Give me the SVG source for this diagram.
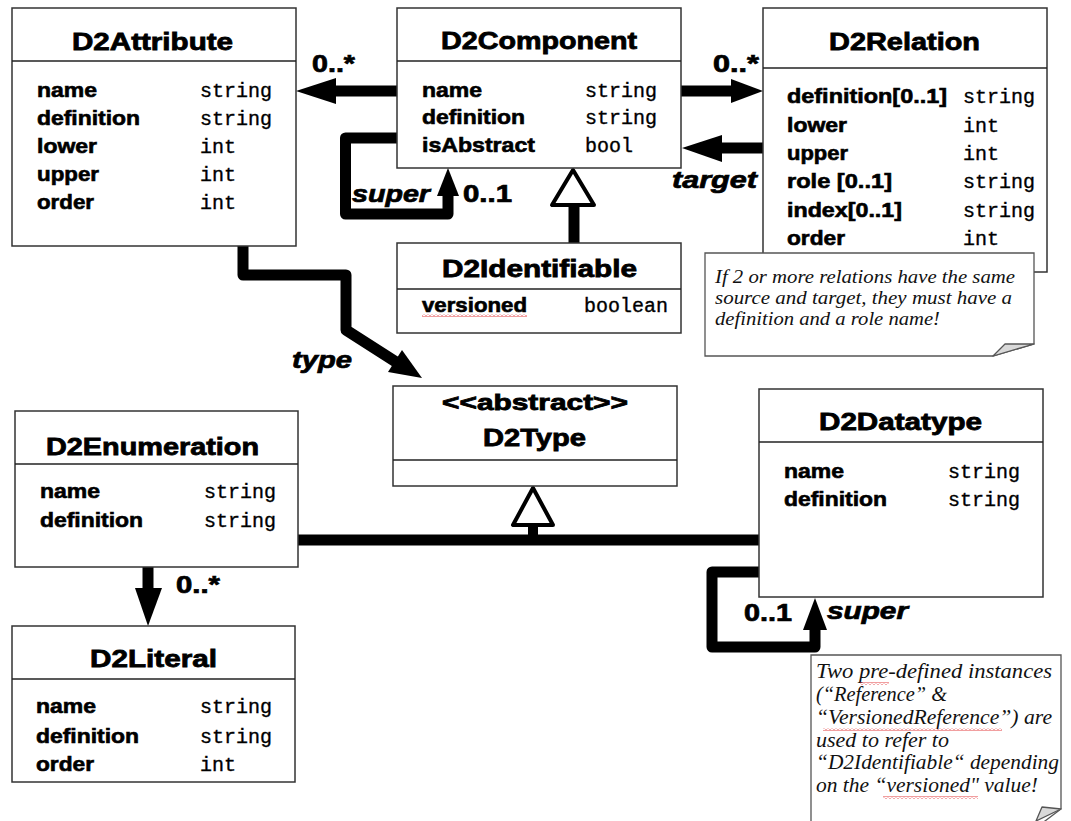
<svg xmlns="http://www.w3.org/2000/svg" width="1071" height="821" viewBox="0 0 1071 821">
<style>
.box{fill:#fff;stroke:#333;stroke-width:1.5}
.div{stroke:#222;stroke-width:1.3}
.title{font-family:"Liberation Sans",Arial,sans-serif;font-weight:bold;font-size:24px;text-anchor:middle;fill:#000;stroke:#000;stroke-width:0.8}
.attr{font-family:"Liberation Sans",Arial,sans-serif;font-weight:bold;font-size:20px;fill:#000;stroke:#000;stroke-width:0.6}
.type{font-family:"Liberation Mono","Courier New",monospace;font-size:20px;fill:#000;stroke:#000;stroke-width:0.35}
.lbl{font-family:"Liberation Sans",Arial,sans-serif;font-weight:bold;font-style:italic;font-size:23px;fill:#000;stroke:#000;stroke-width:0.7}
.mult{font-family:"Liberation Sans",Arial,sans-serif;font-weight:bold;font-size:23px;fill:#000;stroke:#000;stroke-width:0.7}
.note{fill:#fff;stroke:#555;stroke-width:1.3}
.fold{fill:#d9d9d9;stroke:#555;stroke-width:1.3;stroke-linejoin:round}
.nt1{font-family:"Liberation Serif","Times New Roman",serif;font-style:italic;font-size:19px;fill:#111}
.nt2{font-family:"Liberation Serif","Times New Roman",serif;font-style:italic;font-size:21px;fill:#111}
.conn{fill:none;stroke:#000;stroke-width:11;stroke-linejoin:round}
.head{fill:#000}
.gen{fill:#fff;stroke:#000;stroke-width:4;stroke-linejoin:round}
.wavy{fill:url(#wavy)}
</style>
<defs>
<pattern id="wavy" width="4" height="3" patternUnits="userSpaceOnUse">
<path d="M0,2.5 L2,0.5 L4,2.5" fill="none" stroke="#e0282a" stroke-width="0.9"/>
</pattern>
</defs>

<g id="connectors">
<!-- D2Component -> D2Attribute -->
<line class="conn" x1="397" y1="91" x2="332" y2="91"/>
<polygon class="head" points="296,91 336,78 336,104"/>
<text class="mult" x="312" y="72" textLength="43" lengthAdjust="spacingAndGlyphs">0..*</text>
<!-- D2Component -> D2Relation -->
<line class="conn" x1="681" y1="91" x2="734" y2="91"/>
<polygon class="head" points="763,91 731,79 731,103"/>
<text class="mult" x="713" y="72" textLength="46" lengthAdjust="spacingAndGlyphs">0..*</text>
<!-- target -->
<line class="conn" x1="763" y1="148" x2="718" y2="148"/>
<polygon class="head" points="682,148 722,135 722,162"/>
<text class="lbl" x="672" y="188" textLength="85" lengthAdjust="spacingAndGlyphs">target</text>
<!-- super loop D2Component -->
<path class="conn" d="M397,138 H345.5 V214 H448 V192"/>
<polygon class="head" points="448,168 437,196 459,196"/>
<text class="lbl" x="352" y="202" textLength="78" lengthAdjust="spacingAndGlyphs">super</text>
<text class="mult" x="463" y="202" textLength="49" lengthAdjust="spacingAndGlyphs">0..1</text>
<!-- D2Identifiable generalization -->
<line class="conn" x1="574" y1="243" x2="574" y2="203"/>
<polygon class="gen" points="573,170 552,205 594,205"/>
<!-- type -->
<path class="conn" d="M243,246 V275 H346 V330 L396,362"/>
<polygon class="head" points="422,378 388,372 402,350"/>
<text class="lbl" x="292" y="368" textLength="60" lengthAdjust="spacingAndGlyphs">type</text>
<!-- generalization to D2Type -->
<line class="conn" x1="297" y1="540" x2="760" y2="540"/>
<line x1="533" y1="540" x2="533" y2="523" stroke="#000" stroke-width="10"/>
<polygon class="gen" points="533,488 513,525 553,525"/>
<!-- D2Enumeration -> D2Literal -->
<line class="conn" x1="148" y1="567" x2="148" y2="592"/>
<polygon class="head" points="148,626 135,588 162,588"/>
<text class="mult" x="176" y="593" textLength="44" lengthAdjust="spacingAndGlyphs">0..*</text>
<!-- super loop D2Datatype -->
<path class="conn" d="M759,572 H712 V647 H815 V626"/>
<polygon class="head" points="815,598 803,630 827,630"/>
<text class="mult" x="744" y="621" textLength="48" lengthAdjust="spacingAndGlyphs">0..1</text>
<text class="lbl" x="827" y="619" textLength="81" lengthAdjust="spacingAndGlyphs">super</text>
</g>

<g id="D2Attribute">
<rect class="box" x="12" y="8" width="284" height="238"/>
<line class="div" x1="12" y1="61" x2="296" y2="61"/>
<text class="title" x="152.5" y="50" textLength="161" lengthAdjust="spacingAndGlyphs">D2Attribute</text>
<text class="attr" x="37" y="97" textLength="60" lengthAdjust="spacingAndGlyphs">name</text>
<text class="attr" x="37" y="125" textLength="103" lengthAdjust="spacingAndGlyphs">definition</text>
<text class="attr" x="37" y="153" textLength="60" lengthAdjust="spacingAndGlyphs">lower</text>
<text class="attr" x="37" y="181" textLength="62" lengthAdjust="spacingAndGlyphs">upper</text>
<text class="attr" x="37" y="209" textLength="57" lengthAdjust="spacingAndGlyphs">order</text>
<text class="type" x="200" y="97">string</text>
<text class="type" x="200" y="125">string</text>
<text class="type" x="200" y="153">int</text>
<text class="type" x="200" y="181">int</text>
<text class="type" x="200" y="209">int</text>
</g>

<g id="D2Component">
<rect class="box" x="397" y="8" width="284" height="160"/>
<line class="div" x1="397" y1="61" x2="681" y2="61"/>
<text class="title" x="539" y="49" textLength="196" lengthAdjust="spacingAndGlyphs">D2Component</text>
<text class="attr" x="422" y="97" textLength="60" lengthAdjust="spacingAndGlyphs">name</text>
<text class="attr" x="422" y="124" textLength="103" lengthAdjust="spacingAndGlyphs">definition</text>
<text class="attr" x="422" y="152" textLength="113" lengthAdjust="spacingAndGlyphs">isAbstract</text>
<text class="type" x="585" y="97">string</text>
<text class="type" x="585" y="124">string</text>
<text class="type" x="585" y="152">bool</text>
</g>

<g id="D2Relation">
<rect class="box" x="763" y="8" width="284" height="264"/>
<line class="div" x1="763" y1="68" x2="1047" y2="68"/>
<text class="title" x="904.5" y="50" textLength="151" lengthAdjust="spacingAndGlyphs">D2Relation</text>
<text class="attr" x="787" y="103" textLength="160" lengthAdjust="spacingAndGlyphs">definition[0..1]</text>
<text class="attr" x="787" y="132" textLength="60" lengthAdjust="spacingAndGlyphs">lower</text>
<text class="attr" x="787" y="160" textLength="61" lengthAdjust="spacingAndGlyphs">upper</text>
<text class="attr" x="787" y="188" textLength="105" lengthAdjust="spacingAndGlyphs">role [0..1]</text>
<text class="attr" x="787" y="217" textLength="115" lengthAdjust="spacingAndGlyphs">index[0..1]</text>
<text class="attr" x="787" y="245" textLength="58" lengthAdjust="spacingAndGlyphs">order</text>
<text class="type" x="963" y="103">string</text>
<text class="type" x="963" y="132">int</text>
<text class="type" x="963" y="160">int</text>
<text class="type" x="963" y="188">string</text>
<text class="type" x="963" y="217">string</text>
<text class="type" x="963" y="245">int</text>
</g>

<g id="note-relations">
<path class="note" d="M705,253 H1034 V344 L993,356 H705 Z"/>
<polygon class="fold" points="993,356 1005,344 1034,344"/>
<text class="nt1" x="715" y="283" textLength="300" lengthAdjust="spacingAndGlyphs">If 2 or more relations have the same</text>
<text class="nt1" x="715" y="304" textLength="297" lengthAdjust="spacingAndGlyphs">source and target, they must have a</text>
<text class="nt1" x="715" y="325" textLength="225" lengthAdjust="spacingAndGlyphs">definition and a role name!</text>
</g>

<g id="D2Identifiable">
<rect class="box" x="397" y="243" width="284" height="90"/>
<line class="div" x1="397" y1="289" x2="681" y2="289"/>
<text class="title" x="539.5" y="277" textLength="195" lengthAdjust="spacingAndGlyphs">D2Identifiable</text>
<text class="attr" x="422" y="312" textLength="105" lengthAdjust="spacingAndGlyphs">versioned</text>
<rect class="wavy" x="422" y="314" width="105" height="3"/>
<text class="type" x="584" y="312">boolean</text>
</g>

<g id="D2Type">
<rect class="box" x="393" y="386" width="284" height="100"/>
<line class="div" x1="393" y1="460" x2="677" y2="460"/>
<text class="title" x="535" y="410" textLength="186" lengthAdjust="spacingAndGlyphs" style="font-size:22px">&lt;&lt;abstract&gt;&gt;</text>
<text class="title" x="534.5" y="446" textLength="103" lengthAdjust="spacingAndGlyphs">D2Type</text>
</g>

<g id="D2Enumeration">
<rect class="box" x="15" y="411" width="283" height="156"/>
<line class="div" x1="15" y1="464" x2="298" y2="464"/>
<text class="title" x="152.5" y="455" textLength="213" lengthAdjust="spacingAndGlyphs">D2Enumeration</text>
<text class="attr" x="40" y="498" textLength="60" lengthAdjust="spacingAndGlyphs">name</text>
<text class="attr" x="40" y="527" textLength="103" lengthAdjust="spacingAndGlyphs">definition</text>
<text class="type" x="204" y="498">string</text>
<text class="type" x="204" y="527">string</text>
</g>

<g id="D2Literal">
<rect class="box" x="12" y="626" width="283" height="156"/>
<line class="div" x1="12" y1="679" x2="295" y2="679"/>
<text class="title" x="153.5" y="667" textLength="127" lengthAdjust="spacingAndGlyphs">D2Literal</text>
<text class="attr" x="36" y="713" textLength="60" lengthAdjust="spacingAndGlyphs">name</text>
<text class="attr" x="36" y="743" textLength="103" lengthAdjust="spacingAndGlyphs">definition</text>
<text class="attr" x="36" y="771" textLength="58" lengthAdjust="spacingAndGlyphs">order</text>
<text class="type" x="200" y="713">string</text>
<text class="type" x="200" y="743">string</text>
<text class="type" x="200" y="771">int</text>
</g>

<g id="D2Datatype">
<rect class="box" x="759" y="389" width="284" height="208"/>
<line class="div" x1="759" y1="442" x2="1043" y2="442"/>
<text class="title" x="900.5" y="430" textLength="163" lengthAdjust="spacingAndGlyphs">D2Datatype</text>
<text class="attr" x="784" y="478" textLength="60" lengthAdjust="spacingAndGlyphs">name</text>
<text class="attr" x="784" y="506" textLength="103" lengthAdjust="spacingAndGlyphs">definition</text>
<text class="type" x="948" y="478">string</text>
<text class="type" x="948" y="506">string</text>
</g>

<g id="note-datatype">
<path class="note" d="M811,655 H1061 V809 L1033,830 H811 Z"/>
<polygon class="fold" points="1042,807 1061,809 1036,821"/>
<text class="nt2" x="816" y="678" textLength="236" lengthAdjust="spacingAndGlyphs">Two pre-defined instances</text>
<rect class="wavy" x="860" y="682" width="29" height="3"/>
<text class="nt2" x="816" y="701" textLength="131" lengthAdjust="spacingAndGlyphs">(“Reference” &amp;</text>
<text class="nt2" x="816" y="724" textLength="236" lengthAdjust="spacingAndGlyphs">“VersionedReference”) are</text>
<rect class="wavy" x="823" y="728" width="179" height="3"/>
<text class="nt2" x="816" y="747" textLength="133" lengthAdjust="spacingAndGlyphs">used to refer to</text>
<text class="nt2" x="816" y="769" textLength="243" lengthAdjust="spacingAndGlyphs">“D2Identifiable“ depending</text>
<text class="nt2" x="816" y="792" textLength="222" lengthAdjust="spacingAndGlyphs">on the “versioned" value!</text>
<rect class="wavy" x="883" y="796" width="95" height="3"/>
</g>
</svg>
